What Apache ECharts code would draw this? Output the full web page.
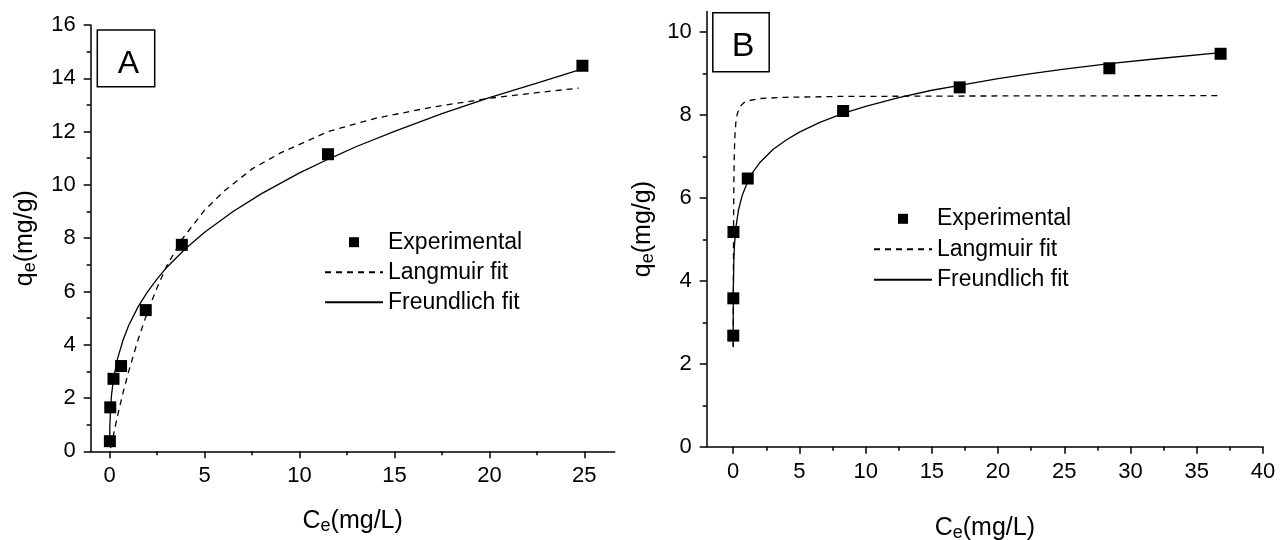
<!DOCTYPE html>
<html><head><meta charset="utf-8">
<script src="https://cdn.jsdelivr.net/npm/echarts@6/dist/echarts.min.js"></script>
<style>html,body{margin:0;padding:0;background:#fff}#c{width:1281px;height:540px}</style>
</head><body><div id="c"></div>
<script>
// ---------- Panel A data ----------
const expA_x = [0.01, 0.03, 0.2, 0.6, 1.9, 3.8, 11.5, 24.9];
const expA_y = [0.38, 1.65, 2.72, 3.2, 5.3, 7.75, 11.15, 14.47];
const langA_x = [0.05, 0.1, 0.3, 0.5, 0.75, 1, 1.5, 2, 2.5, 3, 3.8, 5, 6, 7.5, 9, 11.5, 14, 17, 20, 22.5, 24.7];
const langA_y = [0.12, 0.3, 0.95, 1.6, 2.33, 3.0, 4.2, 5.25, 6.15, 6.95, 7.95, 9.05, 9.75, 10.6, 11.2, 12.0, 12.5, 12.92, 13.25, 13.46, 13.63];
const frA_x = [0.001, 0.01, 0.05, 0.1, 0.2, 0.4, 0.7, 1, 1.5, 2, 2.5, 3, 4, 5, 6.5, 8, 10, 11.5, 13, 15, 17.5, 20, 22.5, 24.9];
const frA_y = [0.44, 0.96, 1.68, 2.13, 2.71, 3.44, 4.17, 4.72, 5.43, 5.99, 6.47, 6.9, 7.61, 8.22, 9.0, 9.67, 10.45, 10.96, 11.44, 12.01, 12.67, 13.27, 13.82, 14.35];
const xTicksA = [0, 5, 10, 15, 20, 25];
const xMinorA = [2.5, 7.5, 12.5, 17.5, 22.5];
const yTicksA = [0, 2, 4, 6, 8, 10, 12, 14, 16];
const yMinorA = [1, 3, 5, 7, 9, 11, 13, 15];

// ---------- Panel B data ----------
const expB_x = [0.005, 0.01, 0.02, 1.1, 8.3, 17.1, 28.4, 36.8];
const expB_y = [2.68, 3.58, 5.18, 6.47, 8.1, 8.67, 9.13, 9.48];
const langB_x = [0.006, 0.015, 0.03, 0.05, 0.08, 0.12, 0.2, 0.3, 0.5, 0.8, 1.2, 2, 4, 8, 16, 36.8];
const langB_y = [2.4, 4.01, 5.44, 6.35, 7.01, 7.44, 7.82, 8.02, 8.2, 8.3, 8.35, 8.4, 8.43, 8.45, 8.46, 8.47];
const frB_x = [0.0002, 0.001, 0.005, 0.01, 0.05, 0.1, 0.2, 0.4, 0.7, 1.1, 1.5, 2, 3, 4, 5, 6.5, 8.3, 10, 12.5, 15, 17.1, 20, 22.5, 25, 28.4, 32, 36.8];
const frB_y = [2.42, 2.9, 3.48, 3.76, 4.51, 4.88, 5.28, 5.71, 6.08, 6.4, 6.63, 6.85, 7.17, 7.4, 7.59, 7.82, 8.04, 8.21, 8.42, 8.6, 8.72, 8.88, 9.0, 9.11, 9.24, 9.36, 9.51];
const xTicksB = [0, 5, 10, 15, 20, 25, 30, 35, 40];
const xMinorB = [2.5, 7.5, 12.5, 17.5, 22.5, 27.5, 32.5, 37.5];
const yTicksB = [0, 2, 4, 6, 8, 10];
const yMinorB = [1, 3, 5, 7, 9];

const names = ['Experimental', 'Langmuir fit', 'Freundlich fit'];
const labelsPanel = ['A', 'B'];

const FONT = '"Liberation Sans", Arial, sans-serif';
const zip = (xs, ys) => xs.map((x, i) => [x, ys[i]]);

const nameStyle = {
  fontSize: 25, color: '#000', fontFamily: FONT, lineHeight: 28,
  rich: { s: { fontSize: 18, color: '#000', fontFamily: FONT, lineHeight: 12, verticalAlign: 'bottom' } }
};
const tickLine = { color: '#000', width: 1.5 };
const lblStyle = { fontSize: 22, color: '#000', fontFamily: FONT };

function mainAxis(grid, pos, min, max, ticks, name, gap) {
  return {
    gridIndex: grid, type: 'value', position: pos, min: min, max: max,
    axisLine: { show: true, onZero: false, lineStyle: { color: '#000', width: 1.5 } },
    axisTick: { show: true, customValues: ticks, length: 7, lineStyle: tickLine },
    axisLabel: Object.assign({ customValues: ticks, margin: pos === 'bottom' ? 14 : 15 }, lblStyle),
    splitLine: { show: false },
    name: name, nameLocation: 'middle', nameGap: gap, nameTextStyle: nameStyle
  };
}
function minorAxis(grid, pos, min, max, ticks) {
  return {
    gridIndex: grid, type: 'value', position: pos, min: min, max: max,
    axisLine: { show: false, onZero: false },
    axisTick: { show: true, customValues: ticks, length: 4, lineStyle: tickLine },
    axisLabel: { show: false }, splitLine: { show: false }
  };
}

const sqIcon = 'path://M0,0h10v10h-10z';
function legendFor(left, top, gap) {
  return {
    left: left, top: top, orient: 'vertical', itemWidth: 58, itemHeight: 10, itemGap: gap,
    selectedMode: false,
    textStyle: { fontSize: 23, color: '#000', fontFamily: FONT, lineHeight: 22 },
    data: [
      { name: names[0], icon: sqIcon, itemStyle: { color: '#000', opacity: 1 } },
      { name: names[1], itemStyle: { opacity: 0 } },
      { name: names[2], itemStyle: { opacity: 0 } }
    ]
  };
}
function seriesFor(xi, yi, ex, ey, lx, ly, fx, fy) {
  return [
    { name: names[1], type: 'line', xAxisIndex: xi, yAxisIndex: yi, data: zip(lx, ly), symbol: 'none',
      smooth: false, lineStyle: { color: '#000', width: 1.3, type: [6, 5] }, itemStyle: { color: '#000' }, z: 2 },
    { name: names[2], type: 'line', xAxisIndex: xi, yAxisIndex: yi, data: zip(fx, fy), symbol: 'none',
      smooth: false, lineStyle: { color: '#000', width: 1.3 }, itemStyle: { color: '#000' }, z: 2 },
    { name: names[0], type: 'scatter', xAxisIndex: xi, yAxisIndex: yi, data: zip(ex, ey), symbol: 'rect',
      symbolSize: 12, itemStyle: { color: '#000', opacity: 1 }, z: 5 }
  ];
}

const chart = echarts.init(document.getElementById('c'), null, { renderer: 'canvas' });
chart.setOption({
  backgroundColor: '#fff',
  animation: false,
  grid: [
    { left: 90.7, top: 25, width: 524, height: 426.3, outerBoundsMode: 'none', containLabel: false },
    { left: 706.7, top: 11.5, width: 556.3, height: 435.2, outerBoundsMode: 'none', containLabel: false }
  ],
  xAxis: [
    mainAxis(0, 'bottom', -1, 26.6, xTicksA, 'C{s|e}(mg/L)', 56),
    minorAxis(0, 'bottom', -1, 26.6, xMinorA),
    mainAxis(1, 'bottom', -2, 40, xTicksB, 'C{s|e}(mg/L)', 67),
    minorAxis(1, 'bottom', -2, 40, xMinorB)
  ],
  yAxis: [
    mainAxis(0, 'left', 0, 16, yTicksA, 'q{s|e}(mg/g)', 52),
    minorAxis(0, 'left', 0, 16, yMinorA),
    mainAxis(1, 'left', 0, 10.5, yTicksB, 'q{s|e}(mg/g)', 50),
    minorAxis(1, 'left', 0, 10.5, yMinorB)
  ],
  legend: [legendFor(319, 225.7, 7), legendFor(868, 202.3, 7.5)],
  series: seriesFor(0, 0, expA_x, expA_y, langA_x, langA_y, frA_x, frA_y)
    .concat(seriesFor(2, 2, expB_x, expB_y, langB_x, langB_y, frB_x, frB_y)),
  graphic: [
    { type: 'rect', shape: { x: 97.3, y: 30, width: 57.4, height: 56.7 }, style: { fill: '#fff', stroke: '#000', lineWidth: 1.5 }, z: 10 },
    { type: 'text', x: 128.5, y: 64, style: { text: labelsPanel[0], font: '32px "Liberation Sans", Arial, sans-serif', fill: '#000', align: 'center', verticalAlign: 'middle' }, z: 11 },
    { type: 'rect', shape: { x: 712.8, y: 12.7, width: 56.4, height: 59 }, style: { fill: '#fff', stroke: '#000', lineWidth: 1.5 }, z: 10 },
    { type: 'text', x: 743, y: 47, style: { text: labelsPanel[1], font: '34px "Liberation Sans", Arial, sans-serif', fill: '#000', align: 'center', verticalAlign: 'middle' }, z: 11 }
  ]
});
</script></body></html>
